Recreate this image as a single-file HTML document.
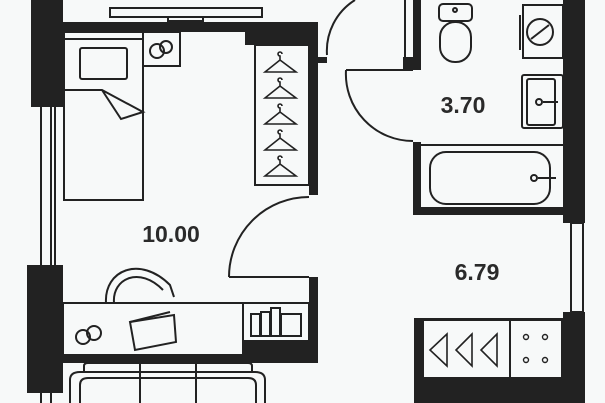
<!DOCTYPE html>
<html><head><meta charset="utf-8"><style>
html,body{margin:0;padding:0;background:#f7f9f9;}
svg{display:block}
text{font-family:"Liberation Sans",sans-serif;font-weight:bold;fill:#2a2a2a}
</style></head><body>
<svg width="605" height="403" viewBox="0 0 605 403" xmlns="http://www.w3.org/2000/svg">
<rect width="605" height="403" fill="#f7f9f9"/>
<g fill="#222">
<!-- left wall -->
<rect x="31" y="0" width="32" height="107"/>
<rect x="27" y="265" width="36" height="128"/>
<!-- top wall -->
<rect x="63" y="22" width="255" height="10"/>
<rect x="245" y="22" width="73" height="23"/>
<rect x="309" y="22" width="9" height="173"/>
<rect x="318" y="57" width="9" height="6"/>
<!-- desk wall -->
<rect x="309" y="277" width="9" height="86"/>
<rect x="55" y="355" width="263" height="8"/>
<rect x="243" y="341" width="75" height="22"/>
<!-- bathroom -->
<rect x="413" y="0" width="8" height="70"/>
<rect x="403" y="57" width="18" height="13"/>
<rect x="413" y="142" width="8" height="73"/>
<rect x="413" y="207" width="172" height="8"/>
<rect x="563" y="0" width="22" height="223"/>
<!-- kitchen -->
<rect x="563" y="312" width="22" height="91"/>
<rect x="414" y="318" width="171" height="85"/>
</g>
<g fill="none" stroke="#222" stroke-width="2">
<!-- windows -->
<rect x="110" y="8" width="152" height="9" fill="#f7f9f9"/>
<rect x="168" y="17" width="35" height="4"/>
<line x1="41" y1="107" x2="41" y2="265"/><line x1="51" y1="107" x2="51" y2="265"/><line x1="55" y1="107" x2="55" y2="265"/>
<line x1="41" y1="393" x2="41" y2="403"/><line x1="51" y1="393" x2="51" y2="403"/>
<line x1="405" y1="0" x2="405" y2="57"/>
<rect x="571" y="223" width="12" height="89" fill="#f7f9f9"/>
<!-- bed -->
<rect x="64" y="32" width="79" height="168"/>
<line x1="64" y1="39" x2="143" y2="39"/>
<rect x="80" y="48" width="47" height="31" rx="2"/>
<polyline points="64,90 102,90 143,112 121,119 102,90"/>
<rect x="143" y="32" width="37" height="34"/>
<circle cx="157" cy="51" r="7"/><circle cx="166" cy="47" r="6"/>
<!-- closet -->
<rect x="255" y="45" width="54" height="140"/>
<!-- bedroom door -->
<path d="M229,277 A80,80 0 0 1 309,197"/>
<line x1="229" y1="277" x2="309" y2="277"/>
<!-- entry door -->
<path d="M327,55 A60,60 0 0 1 355,0"/>
<!-- bathroom door -->
<path d="M346,70 A67,67 0 0 0 413,141"/>
<line x1="346" y1="70" x2="413" y2="70"/>
<!-- toilet -->
<rect x="439" y="4" width="33" height="17" rx="4"/>
<rect x="440" y="22" width="31" height="40" rx="15"/>
<circle cx="455" cy="10" r="2"/>
<!-- washer -->
<rect x="523" y="5" width="40" height="53"/>
<line x1="520" y1="15" x2="520" y2="50"/>
<circle cx="540" cy="32" r="13"/><line x1="531" y1="39" x2="549" y2="25"/>
<!-- sink -->
<rect x="522" y="75" width="41" height="53" rx="2"/>
<rect x="527" y="79" width="28" height="46" rx="2"/>
<circle cx="539" cy="102" r="3"/><line x1="543" y1="102" x2="558" y2="102"/>
<!-- bath -->
<line x1="421" y1="145" x2="563" y2="145"/>
<rect x="430" y="152" width="120" height="52" rx="16"/>
<circle cx="534" cy="178" r="3"/><line x1="538" y1="178" x2="556" y2="178"/>
<!-- chair -->
<path d="M106,303 C104,270 140,255 170,285 L174,297"/>
<path d="M114,303 C112,278 140,266 163,290"/>
<!-- desk -->
<rect x="63" y="303" width="180" height="52"/>
<rect x="243" y="303" width="66" height="38"/>
<circle cx="83" cy="337" r="7"/><circle cx="94" cy="333" r="7"/>
<polygon points="130,322 174,315 176,342 135,350"/>
<line x1="130" y1="322" x2="170" y2="312"/>
<!-- books -->
<rect x="251" y="314" width="9" height="22"/><rect x="261" y="312" width="9" height="24"/><rect x="271" y="308" width="9" height="28"/><rect x="281" y="314" width="20" height="22"/>
<!-- sofa -->
<path d="M70,403 V380 Q70,372 80,372 H255 Q265,372 265,380 V403"/>
<path d="M80,403 V385 Q80,378 88,378 H248 Q256,378 256,385 V403"/>
<path d="M84,372 V366 Q84,363 88,363 H248 Q252,363 252,366 V372"/>
<line x1="140" y1="363" x2="140" y2="403"/><line x1="196" y1="363" x2="196" y2="403"/>
<!-- kitchen cabinet -->
<rect x="423" y="320" width="139" height="58" fill="#f7f9f9"/>
<line x1="510" y1="320" x2="510" y2="378"/>
</g>
<!-- hangers closet -->
<g fill="none" stroke="#222" stroke-width="1.6">
<path d="M265,72 L280,60 L296,72 Z M280,60 v-4 a2,2 0 1 1 2,-2"/>
<path d="M265,98 L280,86 L296,98 Z M280,86 v-4 a2,2 0 1 1 2,-2"/>
<path d="M265,124 L280,112 L296,124 Z M280,112 v-4 a2,2 0 1 1 2,-2"/>
<path d="M265,150 L280,138 L296,150 Z M280,138 v-4 a2,2 0 1 1 2,-2"/>
<path d="M265,176 L280,164 L296,176 Z M280,164 v-4 a2,2 0 1 1 2,-2"/>
<path d="M447,334 L430,350 L447,366 Z"/>
<path d="M472,334 L456,350 L472,366 Z"/>
<path d="M497,334 L481,350 L497,366 Z"/>
</g>
<g fill="none" stroke="#222" stroke-width="1.4">
<circle cx="526" cy="337" r="2.5"/><circle cx="545" cy="337" r="2.5"/><circle cx="526" cy="360" r="2.5"/><circle cx="545" cy="360" r="2.5"/>
</g>
<text x="171" y="242" font-size="23" text-anchor="middle">10.00</text>
<text x="463" y="113" font-size="23" text-anchor="middle">3.70</text>
<text x="477" y="280" font-size="23" text-anchor="middle">6.79</text>
</svg>
</body></html>
